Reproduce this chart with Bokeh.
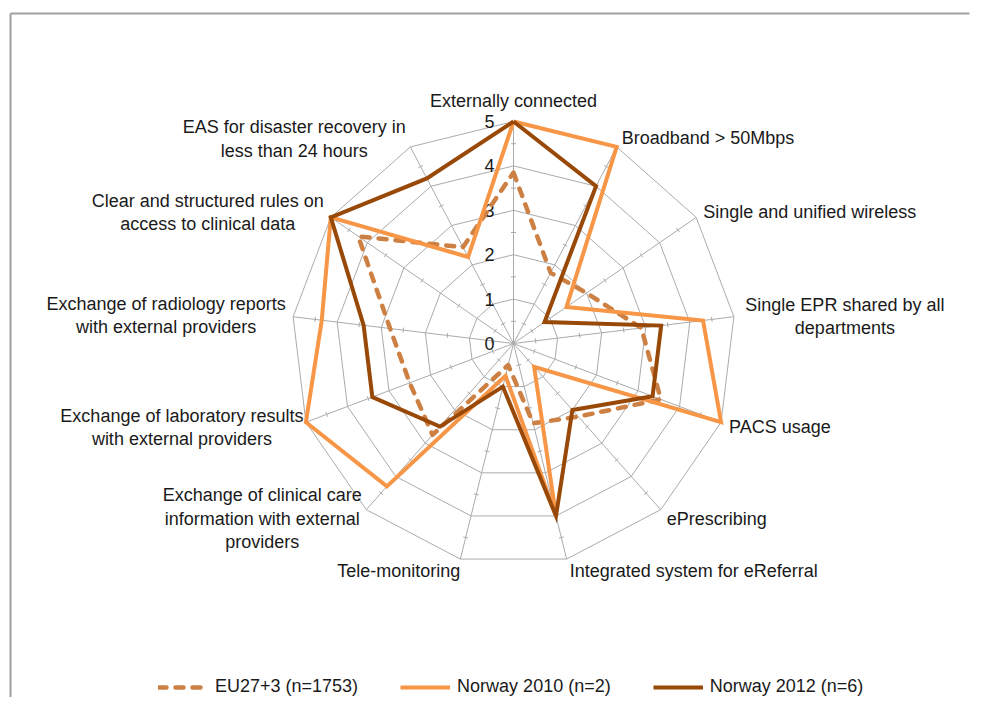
import math
from bokeh.plotting import figure
from bokeh.models import Range1d, Legend, LegendItem, ColumnDataSource
from bokeh.core.properties import value
from bokeh.embed import file_html
from bokeh.resources import INLINE

# ---------------- data ----------------
categories = [
    "Externally connected",
    "Broadband > 50Mbps",
    "Single and unified wireless",
    "Single EPR shared by all\ndepartments",
    "PACS usage",
    "ePrescribing",
    "Integrated system for eReferral",
    "Tele-monitoring",
    "Exchange of clinical care\ninformation with external\nproviders",
    "Exchange of laboratory results\nwith external providers",
    "Exchange of radiology reports\nwith external providers",
    "Clear and structured rules on\naccess to clinical data",
    "EAS for disaster recovery in\nless than 24 hours",
]
eu = [3.85, 1.8, 2.0, 2.9, 3.55, 2.2, 1.85, 0.5, 2.75, 2.5, 2.8, 4.25, 2.45]
norway_2010 = [5.0, 5.0, 1.45, 4.3, 5.0, 0.7, 4.0, 0.75, 4.3, 5.0, 4.35, 5.0, 2.2]
norway_2012 = [5.0, 4.0, 0.85, 3.35, 3.35, 2.0, 4.0, 1.0, 2.5, 3.4, 3.4, 5.0, 4.2]
scale_ticks = [0, 1, 2, 3, 4, 5]
series_names = ["EU27+3 (n=1753)", "Norway 2010 (n=2)", "Norway 2012 (n=6)"]

# ---------------- layout / style ----------------
W, H = 970, 697
CX, CY = 513, 343          # centre of the radar in figure pixels (from left / from top)
RMAX = 5.0
UNIT = 222.0 / RMAX        # pixels per value unit
FONT = "Liberation Sans"
FS = "18px"
TXT = "#1a1a1a"
GRID = "#ababab"

C_EU = "#CD8043"
C_2010 = "#F79646"
C_2012 = "#984807"

n = len(categories)
angles = [2 * math.pi * k / n for k in range(n)]


def to_xy(vals):
    xs = [v * UNIT * math.sin(a) for v, a in zip(vals, angles)]
    ys = [v * UNIT * math.cos(a) for v, a in zip(vals, angles)]
    return xs + xs[:1], ys + ys[:1]


p = figure(width=W, height=H, output_backend="svg", toolbar_location=None,
           x_range=Range1d(-CX, W - CX), y_range=Range1d(-(H - CY), CY),
           x_axis_location=None, y_axis_location=None, min_border=0,
           outline_line_color=None, background_fill_color="white",
           border_fill_color="white")
p.grid.visible = False

# chart frame (open to the right / bottom like the reference)
fl, ft = -CX + 10, CY - 13
p.segment(x0=[fl, fl], y0=[-(H - CY), ft], x1=[fl, W - CX - 1], y1=[ft, ft],
          line_color="#a0a0a0", line_width=2)

# rings
ring_xs, ring_ys = [], []
for lev in scale_ticks[1:]:
    xs, ys = to_xy([lev] * n)
    ring_xs.append(xs)
    ring_ys.append(ys)
p.multi_line(ring_xs, ring_ys, line_color=GRID, line_width=1)

# spokes
ox, oy = to_xy([RMAX] * n)
p.segment(x0=[0] * n, y0=[0] * n, x1=ox[:-1], y1=oy[:-1], line_color=GRID, line_width=1)

# minor tick marks at half steps on each spoke
tx0, ty0, tx1, ty1 = [], [], [], []
half = 2.5
for a in angles:
    for lev in scale_ticks[:-1]:
        r = (lev + 0.5) * UNIT
        px, py = r * math.sin(a), r * math.cos(a)
        dx, dy = math.cos(a) * half, -math.sin(a) * half
        tx0.append(px - dx); ty0.append(py - dy)
        tx1.append(px + dx); ty1.append(py + dy)
p.segment(x0=tx0, y0=ty0, x1=tx1, y1=ty1, line_color=GRID, line_width=1)

# scale labels
p.text(x=[-19] * len(scale_ticks), y=[t * UNIT for t in scale_ticks],
       text=[str(t) for t in scale_ticks], text_align="right", text_baseline="middle",
       text_font=value(FONT), text_font_size=FS, text_color=TXT)

# category labels
label_dx = [0, 5, 7, 111, 8, 6, 3, 0, -104, -124, -127, -123, -116]
label_dy = [-21, -9, -5, 0, 5, 9, 12, 12, 9, 5, -1, -5, -8]
label_align = ["center", "left", "left", "center", "left", "left", "left", "right",
               "center", "center", "center", "center", "center"]
lab_src = ColumnDataSource(dict(x=ox[:-1], y=oy[:-1], text=categories,
                                xo=label_dx, yo=label_dy, al=label_align))
p.text(x="x", y="y", text="text", x_offset="xo", y_offset="yo", text_align="al",
       text_baseline="middle", text_font=value(FONT), text_font_size=FS,
       text_color=TXT, text_line_height=1.17, source=lab_src)

# series
ex, ey = to_xy(eu)
r_eu = p.line(ex, ey, line_color=C_EU, line_width=4.5, line_dash="8 9",
              line_cap="round", line_join="round")
ax, ay = to_xy(norway_2010)
r_10 = p.line(ax, ay, line_color=C_2010, line_width=4, line_join="miter")
bx, by = to_xy(norway_2012)
r_12 = p.line(bx, by, line_color=C_2012, line_width=4, line_join="miter")

legend = Legend(items=[LegendItem(label=series_names[0], renderers=[r_eu]),
                       LegendItem(label=series_names[1], renderers=[r_10]),
                       LegendItem(label=series_names[2], renderers=[r_12])],
                orientation="horizontal", location=(158, 0),
                label_text_font=FONT, label_text_font_size=FS, label_text_color=TXT,
                glyph_width=50, glyph_height=16, label_height=16, label_standoff=7,
                spacing=42, padding=0, margin=0, border_line_color=None,
                background_fill_alpha=0)
p.add_layout(legend, "center")

open("out.html", "w").write(file_html(p, INLINE))
